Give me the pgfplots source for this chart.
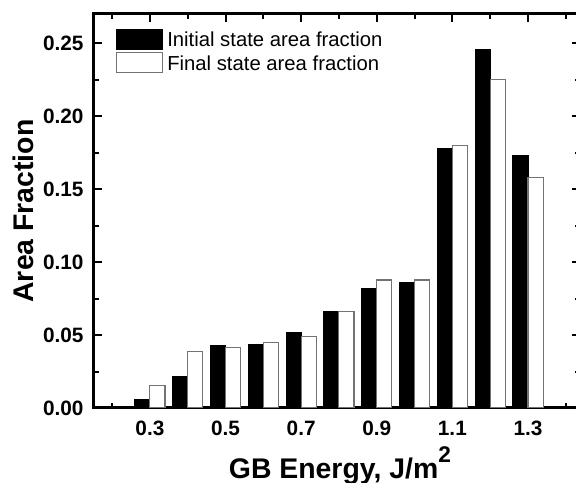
\documentclass[border=0pt]{standalone}
\usepackage{pgfplots}
\pgfplotsset{compat=1.18}
\usepackage{fontspec}
\setmainfont{Liberation Sans}
\pgfplotsset{boxlegend/.style={legend image code/.code={\draw[##1,/tikz/.cd] (0pt,-6.75pt) rectangle (34.5pt,8.25pt);}}}
\begin{document}
\begin{tikzpicture}
\begin{axis}[
  name=ax,
  width=364.5pt, height=295.5pt, scale only axis,
  xmin=0.152, xmax=1.4376, ymin=0, ymax=0.27,
  axis line style={line width=2.25pt},
  every tick/.append style={black, line width=1.5pt},
  major tick length=6pt, minor tick length=3.5pt,
  tick align=inside,
  xtick={0.3,0.5,0.7,0.9,1.1,1.3},
  xticklabels={0.3,0.5,0.7,0.9,1.1,1.3},
  minor xtick={0.2,0.4,0.6,0.8,1.0,1.2,1.4},
  ytick={0,0.05,0.1,0.15,0.2,0.25},
  yticklabels={0.00,0.05,0.10,0.15,0.20,0.25},
  minor ytick={0.025,0.075,0.125,0.175,0.225},
  tick label style={font=\fontsize{15.6}{18}\selectfont\bfseries},
  xticklabel style={yshift=-6pt},
  yticklabel style={xshift=-4.3pt},
  xlabel={GB Energy, J/m\raisebox{0.55em}{\fontsize{17}{17}\selectfont 2}},
  ylabel={Area Fraction},
  label style={font=\fontsize{21.3}{25}\selectfont\bfseries},
  xlabel style={at={(axis description cs:0.506,-0.1777)}, anchor=base},
  ylabel style={at={(axis description cs:-0.146,0.5)}, anchor=center},
  legend style={at={(axis description cs:0,1)}, anchor=north west, xshift=16.5pt, yshift=-10.4pt,
    draw=none, fill=none, inner sep=0pt, font=\fontsize{15.2}{18}\selectfont, row sep=-0.9pt,
    nodes={inner sep=3pt}},
  legend cell align=left,
]
\addplot[ybar, bar width=11.3pt, bar shift=-5.65pt, fill=black, draw=black, line width=0.8pt, boxlegend]
  table[x=x, y=y] {
x y
0.3 0.0055
0.4 0.0215
0.5 0.0425
0.6 0.0434
0.7 0.0518
0.8 0.0660
0.9 0.0820
1.0 0.0860
1.1 0.1780
1.2 0.2457
1.3 0.1730
};
\addlegendentry{Initial state area fraction}
\addplot[ybar, bar width=11.3pt, bar shift=5.65pt, fill=white, draw=black!55, line width=0.8pt, boxlegend]
  table[x=x, y=y] {
x y
0.3 0.0153
0.4 0.0384
0.5 0.0413
0.6 0.0450
0.7 0.0493
0.8 0.0662
0.9 0.0877
1.0 0.0877
1.1 0.1799
1.2 0.2253
1.3 0.1577
};
\addlegendentry{Final state area fraction}
\end{axis}
\pgfresetboundingbox
\path[use as bounding box] ([xshift=-70.5pt,yshift=-56.25pt]ax.south west) rectangle ([xshift=-3pt,yshift=10.5pt]ax.north east);
\end{tikzpicture}
\end{document}
